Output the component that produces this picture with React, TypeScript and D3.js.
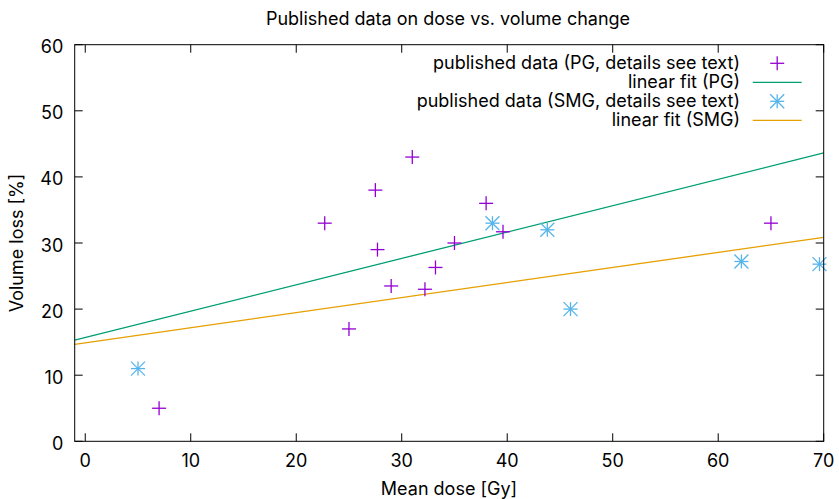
import React from "react";
import * as d3 from "d3";

// Published dose / volume-loss pairs
const pgDose = [7, 22.7, 25, 27.5, 27.7, 29, 31, 32.2, 33.2, 35, 38, 39.6, 65];
const pgLoss = [5, 33, 17, 38, 29, 23.5, 43, 23, 26.3, 30, 36, 31.7, 33];
const smgDose = [5, 38.6, 43.8, 46, 62.2, 69.6];
const smgLoss = [11, 33, 32, 20, 27.2, 26.8];

// Linear fit coefficients: loss = intercept + slope * dose
const pgFit = { intercept: 15.7, slope: 0.399 };
const smgFit = { intercept: 14.9, slope: 0.228 };

const xTicks = [0, 10, 20, 30, 40, 50, 60, 70];
const yTicks = [0, 10, 20, 30, 40, 50, 60];

const legendLabels = [
  "published data (PG, details see text)",
  "linear fit (PG)",
  "published data (SMG, details see text)",
  "linear fit (SMG)",
];

const W = 839;
const H = 499;
const M = { left: 74.7, right: 839 - 823.7, top: 44.7, bottom: 499 - 441.3 };
const FONT = "Inter, 'Liberation Sans', Arial, sans-serif";
const FS = 18;

const C_PG = "#9400d3";
const C_PGFIT = "#009e73";
const C_SMG = "#56b4e9";
const C_SMGFIT = "#e69f00";

function Plus({ x, y, r, color }: { x: number; y: number; r: number; color: string }) {
  return (
    <g stroke={color} strokeWidth={1.3}>
      <line x1={x - r} x2={x + r} y1={y} y2={y} />
      <line x1={x} x2={x} y1={y - r} y2={y + r} />
    </g>
  );
}

function Star({ x, y, r, color }: { x: number; y: number; r: number; color: string }) {
  return (
    <g stroke={color} strokeWidth={1.3}>
      <line x1={x - r} x2={x + r} y1={y} y2={y} />
      <line x1={x} x2={x} y1={y - r} y2={y + r} />
      <line x1={x - r} x2={x + r} y1={y - r} y2={y + r} />
      <line x1={x - r} x2={x + r} y1={y + r} y2={y - r} />
    </g>
  );
}

export default function App() {
  const x = d3.scaleLinear().domain([-1, 70]).range([M.left, W - M.right]);
  const y = d3.scaleLinear().domain([0, 60]).range([H - M.bottom, M.top]);
  const [x0, x1] = x.domain();

  const fitLine = (f: { intercept: number; slope: number }) =>
    d3
      .line<number>()
      .x((d) => x(d))
      .y((d) => y(f.intercept + f.slope * d))([x0, x1]) ?? "";

  const tickLen = 8;
  const legendX = 740;
  const legendY0 = 63.3;
  const legendDy = 19;
  const sampleX1 = 752.7;
  const sampleX2 = 801.7;
  const sampleMid = (sampleX1 + sampleX2) / 2;

  return (
    <svg
      width={W}
      height={H}
      style={{ position: "absolute", left: 0, top: 0, background: "#fff" }}
      fontFamily={FONT}
    >
      <rect width={W} height={H} fill="#fff" />
      <text x={448} y={25} textAnchor="middle" fontSize={FS} fill="#000">
        Published data on dose vs. volume change
      </text>

      {/* ticks, mirrored on all four sides */}
      <g stroke="#000" strokeWidth={1}>
        {xTicks.map((t) => (
          <g key={"xt" + t}>
            <line x1={x(t)} x2={x(t)} y1={y(0)} y2={y(0) - tickLen} />
            <line x1={x(t)} x2={x(t)} y1={y(60)} y2={y(60) + tickLen} />
          </g>
        ))}
        {yTicks.map((t) => (
          <g key={"yt" + t}>
            <line x1={x(x0)} x2={x(x0) + tickLen} y1={y(t)} y2={y(t)} />
            <line x1={x(x1)} x2={x(x1) - tickLen} y1={y(t)} y2={y(t)} />
          </g>
        ))}
      </g>

      <g fontSize={FS} fill="#000">
        {xTicks.map((t) => (
          <text key={"xl" + t} x={x(t)} y={y(0) + 26} textAnchor="middle">
            {t}
          </text>
        ))}
        {yTicks.map((t) => (
          <text key={"yl" + t} x={x(x0) - 11.4} y={y(t) + 8.5} textAnchor="end">
            {t}
          </text>
        ))}
        <text x={449} y={494.5} textAnchor="middle">
          Mean dose [Gy]
        </text>
        <text transform={`translate(23,${(y(0) + y(60)) / 2}) rotate(-90)`} textAnchor="middle">
          Volume loss [%]
        </text>
      </g>

      {/* fits */}
      <path d={fitLine(pgFit)} fill="none" stroke={C_PGFIT} strokeWidth={1.3} />
      <path d={fitLine(smgFit)} fill="none" stroke={C_SMGFIT} strokeWidth={1.3} />

      {/* data */}
      {pgDose.map((d, i) => (
        <Plus key={"pg" + i} x={x(d)} y={y(pgLoss[i])} r={7} color={C_PG} />
      ))}
      {smgDose.map((d, i) => (
        <Star key={"smg" + i} x={x(d)} y={y(smgLoss[i])} r={7} color={C_SMG} />
      ))}

      {/* legend */}
      <g fontSize={FS} fill="#000">
        {legendLabels.map((l, i) => (
          <text key={"lg" + i} x={legendX} y={legendY0 + i * legendDy + 6} textAnchor="end">
            {l}
          </text>
        ))}
      </g>
      <Plus x={sampleMid} y={legendY0} r={7} color={C_PG} />
      <line x1={sampleX1} x2={sampleX2} y1={legendY0 + legendDy} y2={legendY0 + legendDy} stroke={C_PGFIT} strokeWidth={1.3} />
      <Star x={sampleMid} y={legendY0 + 2 * legendDy} r={7} color={C_SMG} />
      <line x1={sampleX1} x2={sampleX2} y1={legendY0 + 3 * legendDy} y2={legendY0 + 3 * legendDy} stroke={C_SMGFIT} strokeWidth={1.3} />

      <rect
        x={x(x0)}
        y={y(60)}
        width={x(x1) - x(x0)}
        height={y(0) - y(60)}
        fill="none"
        stroke="#000"
        strokeWidth={1}
      />
    </svg>
  );
}
